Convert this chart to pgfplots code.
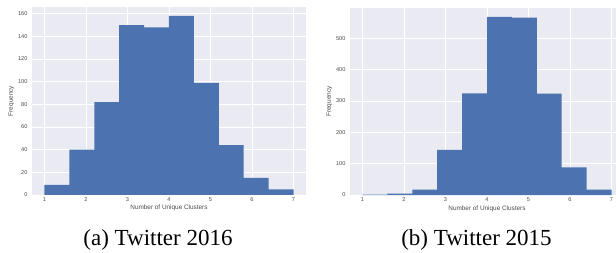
\documentclass[border=0pt]{standalone}
\usepackage{fontspec}
\setmainfont{Liberation Serif}
\newfontfamily\arial{Liberation Sans}
\usepackage{pgfplots}
\pgfplotsset{compat=1.18}
\definecolor{sbbg}{HTML}{EAEAF2}
\definecolor{sbblue}{HTML}{4C72B0}
\definecolor{sbtext}{HTML}{4A4A4A}
\pgfplotsset{
  sbstyle/.style={
    scale only axis,
    axis background/.style={fill=sbbg},
    axis line style={draw=none},
    tick style={draw=none},
    grid=major,
    major grid style={white, line width=0.8pt},
    /pgf/number format/assume math mode=true,
    ticklabel style={font=\arial\fontsize{5.6}{6.5}\selectfont, text=sbtext},
    label style={font=\arial\fontsize{6.4}{7.5}\selectfont, text=sbtext},
    xlabel={Number of Unique Clusters},
    ylabel={Frequency},
    xmin=0.7, xmax=7.3, ymin=0,
    xtick={1,2,3,4,5,6,7},
    xticklabel style={yshift=1pt},
    yticklabel style={xshift=-1pt},
    xlabel style={yshift=3pt},
    ylabel style={yshift=-3pt},
    width=274pt,
    clip=true,
  }
}
\begin{document}
\begin{tikzpicture}
\begin{axis}[sbstyle, at={(32pt,-7pt)}, anchor=north west, height=188pt,
  ymax=165.9, ytick={0,20,40,60,80,100,120,140,160}]
\addplot[ybar interval, fill=sbblue, draw=none] coordinates {
(1.0,9) (1.6,40) (2.2,82) (2.8,150) (3.4,148) (4.0,158) (4.6,99) (5.2,44) (5.8,15) (6.4,5) (7.0,5)};
\end{axis}
\begin{axis}[sbstyle, at={(350pt,-8pt)}, anchor=north west, height=187pt,
  ymax=596.4, ytick={0,100,200,300,400,500}]
\addplot[ybar interval, fill=sbblue, draw=none] coordinates {
(1.0,1) (1.6,4) (2.2,17) (2.8,144) (3.4,324) (4.0,568) (4.6,566) (5.2,323) (5.8,88) (6.4,17) (7.0,17)};
\end{axis}
\node[anchor=base, font=\fontsize{23}{26}\selectfont, inner sep=0pt] at (158pt,-245.7pt) {(a) Twitter 2016};
\node[anchor=base, font=\fontsize{23}{26}\selectfont, inner sep=0pt] at (476.5pt,-245.7pt) {(b) Twitter 2015};
\pgfresetboundingbox
\useasboundingbox (0pt,0pt) rectangle (616pt,-253pt);
\end{tikzpicture}
\end{document}
